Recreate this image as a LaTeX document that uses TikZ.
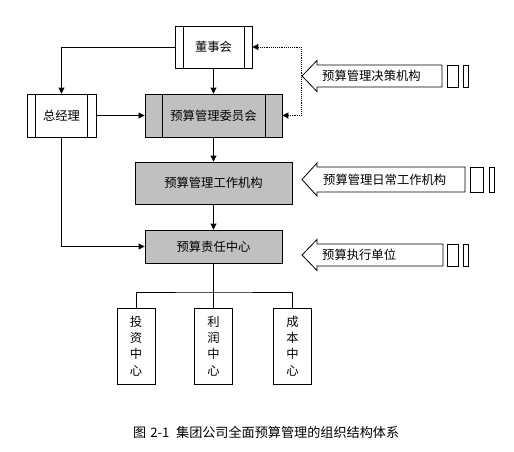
\documentclass[tikz,border=0pt]{standalone}
\usepackage{fontspec}
\setmainfont{Noto Sans CJK SC}
\usepackage{tikz}
\usetikzlibrary{
    positioning,           % Relative positioning
    arrows.meta,           % Modern arrow tips
    calc                   % Coordinate calculations
}
\definecolor{BoxGray}{RGB}{192,192,192}
\tikzset{org box/.style={
    rectangle,
    draw,
    fill=white,
    line width=0.7pt,
    text centered,
    inner sep=0pt,
    font=\fontsize{10.5pt}{14pt}\selectfont
}}
\tikzset{org box gray/.style={
    org box,
    fill=BoxGray
}}
\tikzset{bar box/.style={
    org box,
    path picture={
        \draw[line width=0.7pt]
            ([xshift=#1]path picture bounding box.north west) --
            ([xshift=#1]path picture bounding box.south west)
            ([xshift=-#1]path picture bounding box.north east) --
            ([xshift=-#1]path picture bounding box.south east);
    }
}}
\tikzset{unit box/.style={
    org box,
    minimum width=1.14cm,
    minimum height=2.28cm,
    align=center
}}
\tikzset{link/.style={
    line width=0.6pt,
    -{Triangle[length=5pt,width=5pt]}
}}
\tikzset{callout/.style={
    draw,
    line width=0.7pt
}}
\tikzset{callout text/.style={
    anchor=west,
    inner sep=0pt,
    font=\fontsize{10.5pt}{14pt}\selectfont
}}

\begin{document}
\begin{tikzpicture}[x=0.03cm,y=-0.03cm]
    \useasboundingbox (0,0) rectangle (514,451);

    % boxes
    \node[bar box=0.24cm, minimum width=2.31cm, minimum height=1.26cm] (board) at (213.5,47) {董事会};
    \node[bar box=0.25cm, minimum width=2.07cm, minimum height=1.29cm] (manager) at (61.5,115.5) {总经理};
    \node[bar box=0.51cm, fill=BoxGray, minimum width=4.11cm, minimum height=1.29cm] (committee) at (213.5,115.5) {预算管理委员会};
    \node[org box gray, minimum width=4.71cm, minimum height=1.26cm] (office) at (213.5,183) {预算管理工作机构};
    \node[org box gray, minimum width=4.11cm, minimum height=0.99cm] (resp) at (213.5,246.5) {预算责任中心};

    \node[unit box] (invest) at (136,346) {投\\资\\中\\心};
    \node[unit box] (profit) at (213.5,346) {利\\润\\中\\心};
    \node[unit box] (cost) at (292.5,346) {成\\本\\中\\心};

    % connectors
    \draw[link] (board.west) -| (manager.north);
    \draw[link] (board.south) -- (committee.north);
    \draw[link] (manager.east) -- (committee.west);
    \draw[link] (committee.south) -- (office.north);
    \draw[link] (office.south) -- (resp.north);
    \draw[link] (manager.south) |- (resp.west);

    \coordinate (split) at (213.5,292);
    \draw[line width=0.6pt] (resp.south) -- (split);
    \draw[line width=0.6pt] (invest.north) |- (split) -| (cost.north);
    \draw[line width=0.6pt] (profit.north) -- (split);

    % dotted bracket
    \coordinate (dtop) at (301,47);
    \coordinate (dbot) at (301,115.5);
    \draw[line width=0.6pt, densely dotted, {Triangle[length=5pt,width=5pt]}-{Triangle[length=5pt,width=5pt]}]
        (board.east) -- (dtop) -- (dbot) -- (committee.east);

    % callouts
    \draw[callout] (302,76) -- (317,60.5) -- (317,65) -- (442,65) -- (442,87) -- (317,87) -- (317,91.5) -- cycle;
    \draw[callout] (447,65) rectangle (458,87);
    \draw[callout] (463,65) rectangle (468,87);
    \node[callout text] (decide) at (322,76) {预算管理决策机构};

    \draw[callout] (302,179.5) -- (317,163) -- (317,167) -- (465,167) -- (465,192) -- (317,192) -- (317,196) -- cycle;
    \draw[callout] (470,167) rectangle (483,192);
    \draw[callout] (489,167) rectangle (494,192);
    \node[callout text] (daily) at (323,179.5) {预算管理日常工作机构};

    \draw[callout] (302,255) -- (317,239.5) -- (317,244) -- (443,244) -- (443,266) -- (317,266) -- (317,270.5) -- cycle;
    \draw[callout] (447,244) rectangle (458,266);
    \draw[callout] (463,244) rectangle (468,266);
    \node[callout text] (exec) at (322,255) {预算执行单位};

    % caption
    \node[font=\fontsize{11.2pt}{14pt}\selectfont, anchor=west, inner sep=0pt] (caption) at (133,432)
        {图\hspace{0.12cm}2-1\hspace{0.2cm}集团公司全面预算管理的组织结构体系};
\end{tikzpicture}
\end{document}
